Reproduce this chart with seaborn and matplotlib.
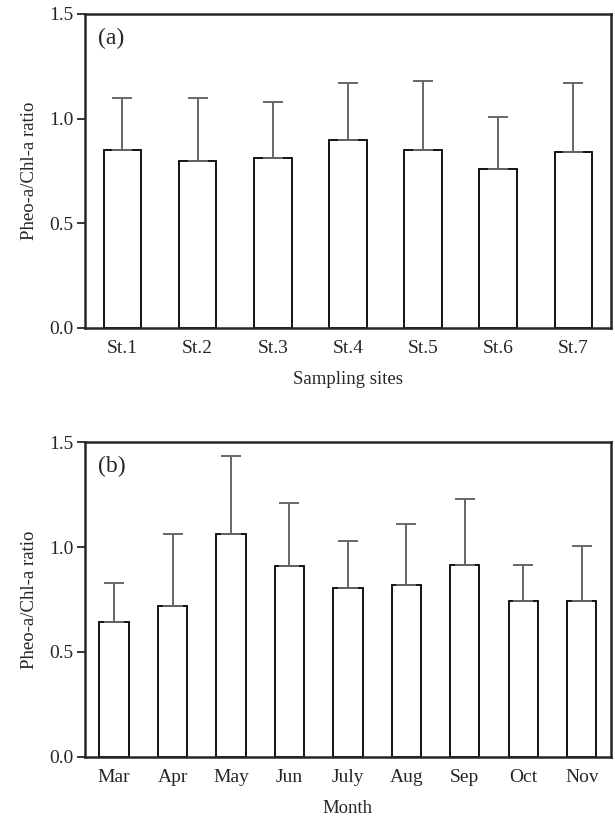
import numpy as np
import pandas as pd
import matplotlib
matplotlib.use("Agg")
import matplotlib.pyplot as plt
import seaborn as sns

# panel (a) - sampling sites
sites = ["St.1", "St.2", "St.3", "St.4", "St.5", "St.6", "St.7"]
site_mean = [0.85, 0.80, 0.81, 0.90, 0.85, 0.76, 0.84]
site_sd = [0.25, 0.30, 0.27, 0.27, 0.33, 0.25, 0.33]

# panel (b) - months
months = ["Mar", "Apr", "May", "Jun", "July", "Aug", "Sep", "Oct", "Nov"]
month_mean = [0.645, 0.72, 1.06, 0.91, 0.805, 0.82, 0.915, 0.745, 0.745]
month_sd = [0.185, 0.34, 0.375, 0.30, 0.225, 0.29, 0.315, 0.17, 0.26]

sns.set_style("ticks")
plt.rcParams['font.family'] = ['Liberation Serif', 'DejaVu Serif']

fig = plt.figure(figsize=(6.15, 8.21), dpi=100)
ax1 = fig.add_axes([0.138, 0.6005, 0.8555, 0.3825])
ax2 = fig.add_axes([0.138, 0.078, 0.8555, 0.3836])


def draw(ax, cats, means, sds, xlabel, tag):
    df = pd.DataFrame({"cat": cats, "val": means})
    sns.barplot(data=df, x="cat", y="val", ax=ax, color="white",
                edgecolor="black", linewidth=1.3, width=0.5, errorbar=None)
    xs = np.arange(len(cats))
    ax.errorbar(xs, means, yerr=[np.zeros(len(sds)), sds], fmt="none",
                ecolor="#666666", elinewidth=1.4, capsize=7, capthick=1.4,
                zorder=1)
    ax.set_ylim(0, 1.5)
    ax.set_xlim(-0.5, len(cats) - 0.5)
    ax.set_yticks([0.0, 0.5, 1.0, 1.5])
    ax.set_yticklabels(["0.0", "0.5", "1.0", "1.5"])
    ax.tick_params(axis="y", length=6, width=1.3, labelsize=14, pad=2)
    ax.tick_params(axis="x", length=0, labelsize=14, pad=9)
    ax.set_xlabel(xlabel, fontsize=13.5, labelpad=10)
    ax.set_ylabel("Pheo-a/Chl-a ratio", fontsize=13.5, labelpad=8)
    for s in ax.spines.values():
        s.set_visible(True)
        s.set_linewidth(1.8)
    ax.text(0.025, 0.955, tag, transform=ax.transAxes, fontsize=17,
            va="top", ha="left")


draw(ax1, sites, site_mean, site_sd, "Sampling sites", "(a)")
draw(ax2, months, month_mean, month_sd, "Month", "(b)")

fig.savefig("out.png", dpi=100)
